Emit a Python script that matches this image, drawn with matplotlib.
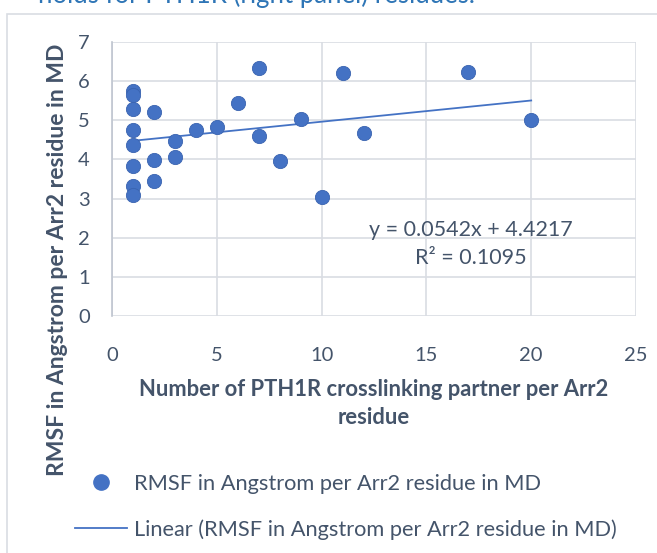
import numpy as np
import matplotlib.pyplot as plt
from matplotlib.patches import Rectangle
from matplotlib.lines import Line2D

# ============================================================
# DATA
# ============================================================

partners = [1, 1, 1, 1, 1, 1, 1, 1,
            2, 2, 2,
            3, 3,
            4, 5, 6, 7, 7, 8, 9, 10, 11, 12, 17, 20]
rmsf = [5.74, 5.65, 5.29, 4.76, 4.37, 3.84, 3.32, 3.09,
        5.21, 3.99, 3.46,
        4.48, 4.06,
        4.76, 4.82, 5.44, 6.33, 4.60, 3.96, 5.03, 3.04, 6.22, 4.67, 6.24, 5.01]

SLOPE = 0.0542
INTERCEPT = 4.4217
R2 = 0.1095

x_ticks = [0, 5, 10, 15, 20, 25]
y_ticks = [0, 1, 2, 3, 4, 5, 6, 7]

SERIES = "RMSF in Angstrom per Arr2 residue in MD"
X_LABEL = "Number of PTH1R crosslinking partner per Arr2\nresidue"
Y_LABEL = "RMSF in Angstrom per Arr2 residue in MD"
CAPTION = "holds for PTH1R (right panel) residues."

BLUE = "#4472c4"
TEXT = "#44546a"
GRID = "#d9dde3"

plt.rcParams["font.family"] = ["Lato", "DejaVu Sans"]

# ============================================================
# Plot
# ============================================================

fig = plt.figure(figsize=(6.57, 5.53), dpi=100)

# chart frame + caption above it (caption is cut off at the top)
fig.patches.append(Rectangle((7 / 657, -0.1), 1.2, 1 - 14 / 553 + 0.1,
                             transform=fig.transFigure, fill=False,
                             edgecolor="#d9dde3", linewidth=1.2))
fig.text(38 / 657, 1 - 3 / 553, CAPTION, color="#2e75b6", fontsize=18.5,
         va="baseline", ha="left")

ax = fig.add_axes([112 / 657, 1 - 316 / 553, 524 / 657, 274 / 553])

ax.scatter(partners, rmsf, s=105, color=BLUE, edgecolors="#3a64b0",
           linewidths=0.6, zorder=3)

xs = np.array([min(partners), max(partners)])
ax.plot(xs, SLOPE * xs + INTERCEPT, color=BLUE, linewidth=1.3, zorder=2)

ax.text(17.1, 1.84, f"y = {SLOPE}x + {INTERCEPT}\nR² = {R2}",
        ha="center", va="center", fontsize=15.5, color=TEXT, linespacing=1.45)

ax.set_xlim(0, 25)
ax.set_ylim(0, 7)
ax.set_xticks(x_ticks)
ax.set_yticks(y_ticks)
ax.grid(True, color=GRID, linewidth=1.2)
ax.set_axisbelow(True)
for side in ["top", "right", "bottom"]:
    ax.spines[side].set_visible(False)
ax.spines["left"].set_color("#bfc5cf")
ax.spines["left"].set_linewidth(1.2)
ax.tick_params(length=0, labelsize=14.5, labelcolor=TEXT, pad=16)
ax.tick_params(axis="x", pad=22)

ax.set_xlabel(X_LABEL, fontsize=15.8, fontweight="bold", color=TEXT,
              labelpad=11, linespacing=1.4)
fig.text(58 / 657, 1 - 260 / 553, Y_LABEL, rotation=90, fontsize=16.5,
         fontweight="bold", color=TEXT, ha="center", va="center")

handles = [Line2D([], [], marker="o", linestyle="none", color=BLUE,
                  markersize=11),
           Line2D([], [], color=BLUE, linewidth=1.3)]
fig.legend(handles, [SERIES, f"Linear ({SERIES})"],
           loc="upper left", bbox_to_anchor=(75 / 657, 1 - 474 / 553),
           frameon=False, fontsize=15.7, labelcolor=TEXT, borderpad=0,
           borderaxespad=0, handlelength=2.4, handletextpad=0.3,
           labelspacing=1.15)

fig.savefig("out.png", dpi=100)
